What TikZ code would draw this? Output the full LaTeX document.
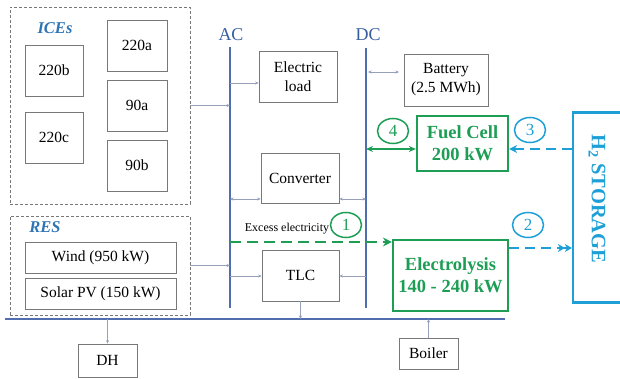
\documentclass[tikz,border=0pt]{standalone}
\usepackage{fontspec}
\setmainfont{Liberation Serif}
\usetikzlibrary{arrows.meta,shapes.geometric}
\definecolor{busblue}{RGB}{80,110,175}
\definecolor{acblue}{RGB}{55,95,160}
\definecolor{iceblue}{RGB}{46,117,182}
\definecolor{gr}{RGB}{30,158,85}
\definecolor{cy}{RGB}{30,160,215}
\definecolor{boxgray}{RGB}{120,120,120}
\definecolor{thin}{RGB}{150,160,185}
\tikzset{
  box/.style={draw=boxgray,line width=0.7pt,fill=white,align=center,inner sep=0pt,
    font=\fontsize{15.5}{19}\selectfont},
  dbox/.style={draw=boxgray,densely dashed,line width=0.6pt,inner sep=0pt},
  gbox/.style={draw=gr,line width=2.2pt,align=center,inner sep=0pt,text=gr,
    font=\fontsize{18.5}{22}\selectfont\bfseries},
  num/.style={ellipse,draw=#1,text=#1,line width=1.5pt,minimum width=31pt,minimum height=25pt,
    inner sep=0pt,font=\fontsize{17}{17}\selectfont},
  bus/.style={draw=busblue,line width=1.5pt},
  tarrow/.style={draw=thin,line width=0.6pt,-{Stealth[length=3.5pt,width=3pt,fill=busblue]}},
  tdarrow/.style={draw=thin,line width=0.6pt,{Stealth[length=3.5pt,width=3pt,fill=busblue]}-{Stealth[length=3.5pt,width=3pt,fill=busblue]}},
  lab/.style={inner sep=0pt,font=\fontsize{16.5}{16.5}\selectfont\bfseries\itshape,text=iceblue},
}
\begin{document}
\begin{tikzpicture}[x=1pt,y=-1pt]
\useasboundingbox (0,0) rectangle (620,379);
% dashed groups
\node[dbox,minimum width=180pt,minimum height=197pt] (ices) at (100,105.5) {};
\node[lab] (iceslab) at (55,28) {ICEs};
\node[box,minimum width=58pt,minimum height=51pt] (b220b) at (54,70.5) {220b};
\node[box,minimum width=58pt,minimum height=51pt] (b220c) at (54,137.5) {220c};
\node[box,minimum width=60pt,minimum height=51pt] (b220a) at (137,45.5) {220a};
\node[box,minimum width=60pt,minimum height=51pt] (b90a) at (137,105.5) {90a};
\node[box,minimum width=60pt,minimum height=51pt] (b90b) at (137,165.5) {90b};
\node[dbox,minimum width=180pt,minimum height=99pt] (res) at (100,265.5) {};
\node[lab] (reslab) at (45,227) {RES};
\node[box,minimum width=151pt,minimum height=31pt] (wind) at (100.5,257.5) {Wind (950 kW)};
\node[box,minimum width=151pt,minimum height=31pt] (solar) at (100.5,293.5) {Solar PV (150 kW)};
% buses
\coordinate (acT) at (230,47); \coordinate (acB) at (230,308);
\coordinate (dcT) at (366,48); \coordinate (dcB) at (366,308);
\draw[bus] (acT) -- (acB);
\draw[bus] (dcT) -- (dcB);
\node[text=acblue,font=\fontsize{18}{18}\selectfont] (aclab) at (231,35) {AC};
\node[text=acblue,font=\fontsize{18}{18}\selectfont] (dclab) at (368,35) {DC};
\coordinate (hbL) at (5,319); \coordinate (hbR) at (505,319);
\draw[bus,line width=1.3pt] (hbL) -- (hbR);
% boxes
\node[box,minimum width=78pt,minimum height=51pt] (eload) at (298,76.5) {Electric\\load};
\node[box,minimum width=78pt,minimum height=50pt] (conv) at (300,178) {Converter};
\node[box,minimum width=77pt,minimum height=51pt] (tlc) at (300.5,275.5) {TLC};
\node[box,minimum width=84pt,minimum height=52pt] (batt) at (446,80) {Battery\\(2.5 MWh)};
\node[gbox,minimum width=91pt,minimum height=55pt] (fc) at (462.5,143.5) {Fuel Cell\\200 kW};
\node[gbox,minimum width=115pt,minimum height=71pt] (ely) at (450.5,275.5) {Electrolysis\\140 - 240 kW};
\node[draw=cy,line width=2.2pt,minimum width=50pt,minimum height=190pt,inner sep=0pt] (h2) at (598,207.5) {};
\node[rotate=-90,text=cy,font=\fontsize{20.5}{20.5}\selectfont\bfseries] (h2lab) at (597,199) {H\textsubscript{2} STORAGE};
\node[box,minimum width=59pt,minimum height=33pt] (dh) at (107.5,360.5) {DH};
\node[box,minimum width=59pt,minimum height=31pt] (boiler) at (428.5,353.5) {Boiler};
% thin connectors
\draw[tarrow] (ices.east) -- (acT |- ices.east);
\draw[tarrow] (res.east) -- (acT |- res.east);
\coordinate (el1) at (230,83);
\draw[tarrow] (el1) -- (eload.west |- el1);
\coordinate (cv1) at (230,199); \coordinate (cv2) at (366,199);
\draw[tdarrow] (cv1) -- (conv.west |- cv1);
\draw[tdarrow] (conv.east |- cv2) -- (cv2);
\coordinate (tl1) at (230,276); \coordinate (tl2) at (366,276);
\draw[tarrow] (tl1) -- (tlc.west |- tl1);
\draw[tarrow] (tl2) -- (tlc.east |- tl2);
\draw[tarrow] (tlc.south) -- (tlc.south |- hbL);
\draw[tarrow] (dh.north |- hbL) -- (dh.north);
\draw[tarrow] (boiler.north) -- (boiler.north |- hbL);
\coordinate (bt1) at (368,72); \coordinate (bt2) at (399,72);
\draw[tdarrow] (bt1) -- (bt2);
% green and cyan flows
\coordinate (fc1) at (366,149);
\draw[draw=gr,line width=2pt,{Stealth[length=7pt,width=6pt]}-{Stealth[length=7pt,width=6pt]}] (fc1) -- (fc.west |- fc1);
\draw[draw=cy,line width=2.2pt,dash pattern=on 10pt off 6pt,-{Stealth[length=8pt,width=8pt]}] (h2.west |- fc1) -- (fc.east |- fc1);
\coordinate (ex1) at (230,242);
\draw[draw=gr,line width=2.4pt,dash pattern=on 11pt off 6pt,-{Stealth[length=9pt,width=9pt]}] (ex1) -- (ely.west |- ex1);
\coordinate (el2) at (509,248);
\draw[draw=cy,line width=2.2pt,dash pattern=on 10pt off 6pt,-{Stealth[length=7pt,width=8pt]Stealth[length=7pt,width=8pt]}] (el2) -- (h2.west |- el2);
\node[font=\fontsize{12}{12}\selectfont,inner sep=0pt] (exlab) at (287,229) {Excess electricity};
\node[num=gr] (c1) at (346,225) {1};
\node[num=cy] (c2) at (528,225) {2};
\node[num=cy] (c3) at (530,130) {3};
\node[num=gr] (c4) at (393,131) {4};
\end{tikzpicture}
\end{document}
